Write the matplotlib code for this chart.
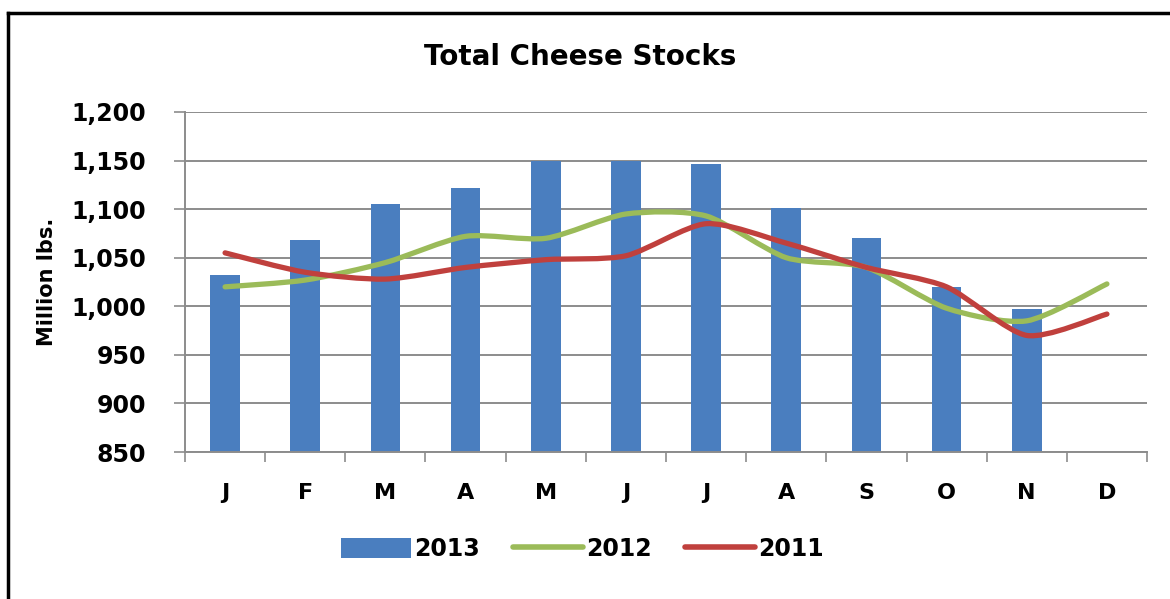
import matplotlib
matplotlib.use("Agg")
import matplotlib.pyplot as plt
from matplotlib.path import Path
from matplotlib.patches import PathPatch, Patch
from matplotlib.lines import Line2D
import numpy as np

months = ["J", "F", "M", "A", "M", "J", "J", "A", "S", "O", "N", "D"]
stocks_2013 = [1032, 1068, 1105, 1122, 1150, 1150, 1146, 1101, 1070, 1020, 997]
stocks_2012 = [1020, 1027, 1045, 1072, 1070, 1095, 1093, 1050, 1040, 998, 985, 1023]
stocks_2011 = [1055, 1035, 1028, 1040, 1048, 1052, 1085, 1065, 1040, 1020, 970, 992]
yticks = [850, 900, 950, 1000, 1050, 1100, 1150, 1200]

BLUE = "#4A7EBF"
GREEN = "#9BBB59"
RED = "#C0403D"
GRID = "#8C8C8C"

plt.rcParams["font.family"] = ["DejaVu Sans"]

fig = plt.figure(figsize=(11.7, 5.99), dpi=100)
ax = fig.add_axes([185 / 1170, 1 - 452 / 599, (1147 - 185) / 1170, (452 - 112) / 599])

x_bar = np.arange(len(stocks_2013))
ax.bar(x_bar, stocks_2013, width=0.37, color=BLUE, zorder=2)


def smooth_path(xs, ys, k=8.0):
    pts = np.column_stack([xs, ys]).astype(float)
    n = len(pts)
    verts = [pts[0]]
    codes = [Path.MOVETO]
    for i in range(n - 1):
        p0 = pts[max(i - 1, 0)]
        p1 = pts[i]
        p2 = pts[i + 1]
        p3 = pts[min(i + 2, n - 1)]
        c1 = p1 + (p2 - p0) / k
        c2 = p2 - (p3 - p1) / k
        verts += [c1, c2, p2]
        codes += [Path.CURVE4] * 3
    return Path(verts, codes)


for data, col in [(stocks_2012, GREEN), (stocks_2011, RED)]:
    xs = np.arange(len(data))
    patch = PathPatch(smooth_path(xs, data), facecolor="none", edgecolor=col,
                      lw=3.8, capstyle="round", joinstyle="round", zorder=3)
    ax.add_patch(patch)

ax.set_xlim(-0.5, 11.5)
ax.set_ylim(850, 1200)
ax.set_yticks(yticks)
ax.set_yticklabels([f"{v:,}" for v in yticks], fontsize=17, fontweight="bold")
ax.yaxis.grid(True, color=GRID, lw=1.4, zorder=0)
ax.set_axisbelow(True)

ax.set_xticks(np.arange(len(months)))
ax.set_xticklabels(months, fontsize=16, fontweight="bold")
ax.set_xticks(np.arange(-0.5, 12, 1), minor=True)
ax.tick_params(axis="x", which="major", length=0, pad=22)
ax.tick_params(axis="x", which="minor", length=7, width=1.2, color=GRID, direction="out")
ax.tick_params(axis="y", length=8, width=1.2, color=GRID, pad=20)

for s in ["top", "right"]:
    ax.spines[s].set_visible(False)
for s in ["left", "bottom"]:
    ax.spines[s].set_color(GRID)
    ax.spines[s].set_linewidth(1.4)

ax.set_ylabel("Million lbs.", fontsize=15, fontweight="bold")
ax.yaxis.set_label_coords(-0.133, 0.5)

fig.text(580 / 1170, 1 - 57 / 599, "Total Cheese Stocks", ha="center", va="center",
         fontsize=20, fontweight="bold")

handles = [Patch(facecolor=BLUE, edgecolor="none"),
           Line2D([], [], color=GREEN, lw=4, solid_capstyle="round"),
           Line2D([], [], color=RED, lw=4, solid_capstyle="round")]
fig.legend(handles, ["2013", "2012", "2011"], loc="center",
           bbox_to_anchor=(582 / 1170, 1 - 549 / 599), ncol=3, frameon=False,
           prop={"size": 17, "weight": "bold"}, handlelength=3.0, handleheight=0.9,
           handletextpad=0.1, columnspacing=1.4)

# frame lines (left and top) as in the reference screenshot
fig.add_artist(Line2D([8 / 1170, 8 / 1170], [0, 1 - 13 / 599], color="black", lw=2.5,
                      transform=fig.transFigure))
fig.add_artist(Line2D([8 / 1170, 1], [1 - 13 / 599, 1 - 13 / 599], color="black", lw=2.5,
                      transform=fig.transFigure))

fig.savefig("out.png", dpi=100)
